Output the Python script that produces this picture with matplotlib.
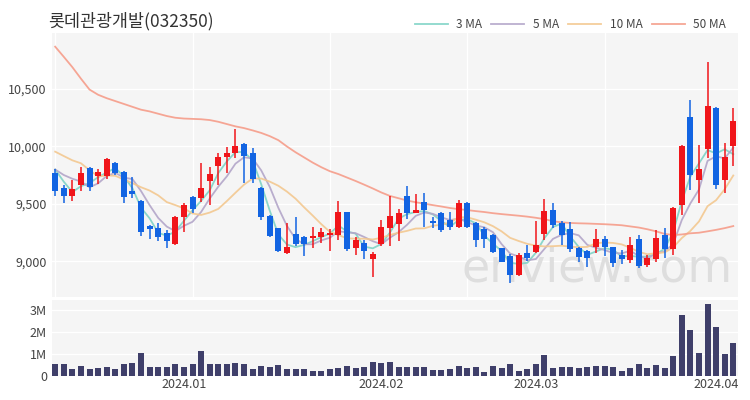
import matplotlib as mpl
mpl.use('Agg')
import numpy as np
import pandas as pd
import matplotlib.pyplot as plt

plt.rcParams['font.family'] = ['Noto Sans CJK KR', 'DejaVu Sans']

title = '롯데관광개발(032350)'

# daily candles, mid Dec 2023 .. 3 Apr 2024 (one entry per trading day)
opens = [9772, 9636, 9569, 9667, 9810, 9743, 9746, 9859, 9781, 9613,
         9528, 9308, 9288, 9245, 9150, 9389, 9558, 9549, 9700, 9830,
         9906, 9941, 10020, 9941, 9636, 9398, 9288, 9071, 9239, 9210,
         9201, 9210, 9230, 9230, 9430, 9114, 9163, 9019, 9150, 9288,
         9326, 9572, 9424, 9520, 9352, 9424, 9361, 9297, 9511, 9337,
         9280, 9230, 9114, 9047, 8882, 9071, 9085, 9239, 9448, 9332,
         9280, 9114, 9093, 9128, 9193, 9123, 9056, 9013, 9193, 8969,
         9019, 9230, 9106, 9491, 10259, 9709, 9976, 10332, 9709, 10004]
highs = [9802, 9665, 9708, 9824, 9824, 9802, 9903, 9868, 9790, 9732,
         9535, 9317, 9332, 9274, 9395, 9506, 9570, 9859, 9824, 9941,
         9998, 10150, 10033, 9990, 9650, 9404, 9290, 9332, 9384, 9221,
         9302, 9290, 9280, 9526, 9430, 9216, 9187, 9085, 9361, 9572,
         9454, 9656, 9587, 9593, 9389, 9430, 9433, 9535, 9515, 9345,
         9302, 9235, 9120, 9065, 9071, 9143, 9354, 9541, 9506, 9352,
         9343, 9130, 9100, 9280, 9221, 9130, 9100, 9213, 9230, 9056,
         9274, 9291, 9470, 10010, 10405, 10013, 10735, 10340, 10030, 10335]
lows = [9569, 9506, 9526, 9615, 9615, 9674, 9715, 9750, 9506, 9555,
        9224, 9193, 9181, 9114, 9140, 9259, 9420, 9520, 9491, 9665,
        9767, 9897, 9680, 9680, 9361, 9210, 9085, 9065, 9134, 9050,
        9114, 9160, 9094, 9187, 9093, 9056, 9019, 8862, 9134, 9134,
        9181, 9367, 9419, 9302, 9288, 9260, 9274, 9288, 9288, 9123,
        9117, 9071, 8993, 8810, 8873, 9007, 9071, 9187, 9288, 9143,
        9082, 8995, 8954, 9071, 9047, 8954, 8978, 8986, 8946, 8952,
        8995, 9030, 9056, 9404, 9622, 9508, 9900, 9630, 9596, 9830]
closes = [9613, 9569, 9628, 9767, 9650, 9781, 9891, 9767, 9558, 9587,
          9259, 9280, 9210, 9181, 9389, 9491, 9454, 9636, 9765, 9906,
          9941, 10004, 9914, 9715, 9389, 9221, 9094, 9128, 9152, 9152,
          9224, 9259, 9245, 9433, 9106, 9187, 9094, 9062, 9300, 9392,
          9424, 9419, 9448, 9448, 9332, 9274, 9297, 9511, 9297, 9187,
          9193, 9085, 8998, 8882, 9056, 9027, 9143, 9441, 9317, 9230,
          9106, 9041, 9027, 9193, 9128, 8984, 9019, 9143, 8960, 9027,
          9201, 9106, 9462, 10004, 9752, 9802, 10352, 9665, 9911, 10222]
# volume in millions of shares
volumes = [0.54, 0.54, 0.28, 0.43, 0.28, 0.34, 0.38, 0.28, 0.54, 0.57,
           1.04, 0.38, 0.38, 0.38, 0.51, 0.38, 0.54, 1.14, 0.51, 0.51,
           0.51, 0.58, 0.54, 0.28, 0.43, 0.38, 0.49, 0.28, 0.31, 0.31,
           0.20, 0.20, 0.31, 0.35, 0.46, 0.34, 0.38, 0.61, 0.58, 0.63,
           0.38, 0.38, 0.37, 0.38, 0.26, 0.26, 0.28, 0.46, 0.34, 0.38,
           0.18, 0.46, 0.34, 0.51, 0.23, 0.28, 0.51, 0.95, 0.34, 0.38,
           0.38, 0.34, 0.38, 0.45, 0.45, 0.41, 0.23, 0.35, 0.54, 0.34,
           0.49, 0.34, 0.88, 2.76, 2.07, 1.03, 3.27, 2.23, 1.00, 1.51]
# closes just before the window, only used to start the short MAs
prior_closes = [9950, 10000, 10024, 10250, 10326, 9809, 9791, 9887, 9900]
# 50 MA (its history is not in the window)
ma50 = [10868, 10780, 10690, 10590, 10495, 10450, 10420, 10395, 10370, 10345,
        10320, 10305, 10285, 10265, 10250, 10243, 10240, 10237, 10230, 10215,
        10195, 10175, 10160, 10140, 10118, 10090, 10055, 10000, 9950, 9905,
        9860, 9820, 9785, 9760, 9730, 9700, 9668, 9635, 9600, 9570,
        9550, 9530, 9515, 9503, 9490, 9478, 9465, 9455, 9447, 9438,
        9430, 9420, 9412, 9405, 9398, 9390, 9380, 9368, 9350, 9340,
        9335, 9332, 9330, 9327, 9324, 9320, 9315, 9305, 9295, 9280,
        9262, 9240, 9230, 9235, 9245, 9250, 9262, 9275, 9290, 9308]

tick_pos = [15, 38, 56, 77]
tick_labels = ['2024.01', '2024.02', '2024.03', '2024.04']

up_col = '#f0151a'
down_col = '#1264e2'
ma_cols = {3: '#7fd3c6', 5: '#b3a6c9', 10: '#f3c890', 50: '#f59d8a'}

x = np.arange(len(closes))
o = np.array(opens); h = np.array(highs); l = np.array(lows); c = np.array(closes)
allc = pd.Series(prior_closes + closes, dtype=float)
n0 = len(prior_closes)
ma = {k: allc.rolling(k).mean().values[n0:] for k in (3, 5, 10)}
ma[50] = np.array(ma50)

fig = plt.figure(figsize=(7.5, 4), dpi=100)
ax = fig.add_axes([0.069, 0.2575, 0.915, 0.66])
axv = fig.add_axes([0.069, 0.061, 0.915, 0.189])
for a in (ax, axv):
    a.set_facecolor('#f5f5f5')
    for s in a.spines.values():
        s.set_visible(False)
    a.set_xlim(-0.4, 79.55)
    a.tick_params(length=0, labelsize=9, colors='#444')
    a.set_axisbelow(True)

# watermark
ax.text(0.795, 0.105, 'enview.com', transform=ax.transAxes, fontsize=33,
        color='#dedede', ha='center', va='center', family='DejaVu Sans', zorder=1)

cols = np.where(c >= o, up_col, down_col)
ax.vlines(x, l, h, colors=cols, lw=1.1, zorder=3)
body = np.maximum(np.abs(c - o), 10)
ax.bar(x, body, bottom=np.minimum(o, c), width=0.7, color=cols, zorder=3)

for k in (3, 5, 10, 50):
    ax.plot(x, ma[k], color=ma_cols[k], lw=1.3, alpha=0.9, zorder=2, label='%d MA' % k)

ax.set_ylim(8691, 10987)
ax.set_yticks([9000, 9500, 10000, 10500])
ax.set_yticklabels(['{:,}'.format(v) for v in [9000, 9500, 10000, 10500]])
ax.set_xticks([0, 16, 32, 48, 64])
ax.set_xticklabels([])
ax.grid(color='white', lw=1)

axv.bar(x, np.array(volumes) * 1e6, width=0.7, color='#3f3f6a', zorder=3)
axv.set_ylim(0, 3.45e6)
axv.set_yticks([0, 1e6, 2e6, 3e6])
axv.set_yticklabels(['0', '1M', '2M', '3M'])
axv.set_xticks(tick_pos)
axv.set_xticklabels(tick_labels)
axv.tick_params(axis='x', pad=2)
axv.grid(axis='y', color='white', lw=1)

fig.text(0.064, 1 - 21 / 400, title, fontsize=12.5, va='center', color='#333')
fig.legend(loc='center right', bbox_to_anchor=(0.982, 1 - 25 / 400), ncol=4,
           frameon=False, fontsize=8.5, handlelength=2.8, handletextpad=0.7,
           columnspacing=0.8, labelcolor='#444')

plt.savefig('out.png', dpi=100)
